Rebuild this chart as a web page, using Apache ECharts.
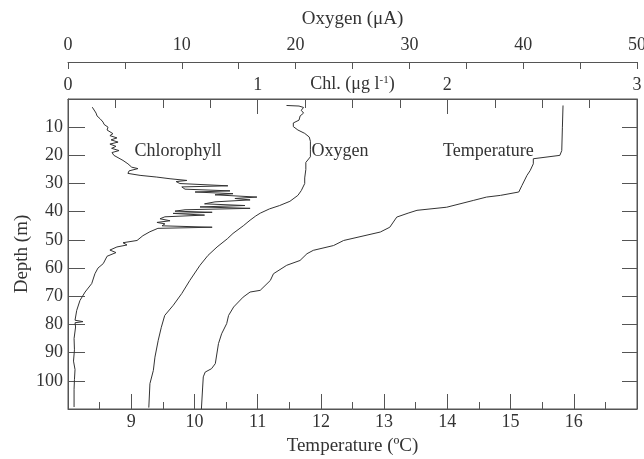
<!DOCTYPE html>
<html><head><meta charset="utf-8">
<script src="https://cdn.jsdelivr.net/npm/echarts@6/dist/echarts.min.js"></script>
<style>html,body{margin:0;padding:0;background:#fff}#c{width:644px;height:459px}</style>
</head><body><div id="c"></div>
<script>
// Chlorophyll (µg l-1) vs depth (m)
const chlDepth = [2.9,3.5,5,6,7,8.2,9,10,11,12.3,13,13.8,14.5,15.3,16,16.8,17.5,18.3,19,20,20.6,21.8,23,24.2,24.7,25.5,26.4,27.1,27.7,28.3,28.9,29.3,30,30.8,31.2,32,32.6,33,33.6,34,34.8,35.3,35.8,36.5,37.2,37.8,38.3,38.8,39.3,39.8,40.2,40.6,41.2,41.8,42.5,43.2,43.8,44.3,45,45.5,45.9,47.1,48.5,50.2,51,51.8,52.5,53.6,54.5,55.2,55.8,58.4,60,62,65.5,68.5,71.5,75,78.5,79,79.4,80.9,85,89,93,96,99.6,103,109.3];
const chlValue = [0.128,0.132,0.148,0.153,0.169,0.185,0.19,0.211,0.206,0.237,0.221,0.258,0.227,0.264,0.221,0.253,0.23,0.269,0.232,0.242,0.237,0.29,0.316,0.336,0.369,0.322,0.316,0.38,0.468,0.538,0.627,0.57,0.59,0.843,0.6,0.617,0.854,0.67,0.87,0.775,0.996,0.88,0.96,0.775,0.72,0.933,0.696,0.96,0.617,0.564,0.76,0.554,0.72,0.511,0.485,0.538,0.469,0.511,0.496,0.76,0.474,0.432,0.395,0.364,0.29,0.311,0.258,0.221,0.253,0.258,0.206,0.186,0.158,0.142,0.125,0.09,0.063,0.046,0.037,0.079,0.037,0.04,0.032,0.034,0.029,0.037,0.034,0.032,0.032];
// Oxygen (µA) vs depth (m)
const oxyDepth = [2.3,2.5,3.0,4.0,5.0,6.0,7.5,8.5,9.8,11,12.2,13.5,15,18,20.5,22.5,25,28,30,32.5,34.2,36.3,37.8,39,40.5,41.5,43,45,47.7,49.6,52.5,55.5,59,64.4,69,73.2,76.8,81,85.6,91.6,96.3,101,109.5];
const oxyValue = [19.2,20.3,20.7,20.5,20.7,20.4,20.3,19.8,19.8,20.2,20.8,21.2,21.3,21.3,21.3,20.9,20.9,20.8,20.8,20.5,20.2,19.5,18.6,17.7,16.9,16.5,16.0,15.4,14.5,14.0,13.1,12.3,11.6,10.7,10.0,9.25,8.5,8.2,7.93,7.64,7.5,7.2,7.1];
// Temperature (ºC) vs depth (m)
const tmpDepth = [2.3,10,18.3,20,21.2,23,25.4,27.1,30.7,33,34.2,34.8,36,38.4,39.5,40.5,41.9,45.5,47.2,50.2,52,53.7,54.9,57.3,59,62,64.4,67.9,68.5,70.3,73.8,76.8,79.7,83.3,86.8,93.9,95.7,96.9,98.6,102.2,110];
const tmpValue = [15.83,15.82,15.81,15.78,15.36,15.36,15.31,15.26,15.18,15.13,14.84,14.62,14.41,13.99,13.52,13.38,13.2,13.09,12.94,12.36,12.2,11.88,11.78,11.67,11.46,11.25,11.2,11.04,10.88,10.77,10.62,10.54,10.51,10.43,10.38,10.33,10.27,10.17,10.14,10.13,10.11];
// Axis ranges / ticks
const depthRange = [0, 110];
const tempRange = [8, 17];
const chlRange = [0, 3];
const oxyRange = [0, 50];
// Curve labels: [text, axis value, depth]
const labelChl = ['Chlorophyll', 0.58, 18.6];
const labelOxy = ['Oxygen', 23.9, 18.6];
const labelTmp = ['Temperature', 14.65, 18.6];

const pairs = (v, d) => v.map((x, i) => [x, d[i]]);
const FONT = '"Liberation Serif", "DejaVu Serif", serif';
const TXT = '#333';
const AX = '#555';
const LINE = '#333';
const LBL = 18, TTL = 19;

const chart = echarts.init(document.getElementById('c'), null, {renderer: 'canvas'});
const baseAxisLine = {show: true, onZero: false, lineStyle: {color: AX, width: 1}};
const lbl = (extra) => Object.assign({color: TXT, fontFamily: FONT, fontSize: LBL}, extra || {});

const option = {
  backgroundColor: '#fff',
  animation: false,
  grid: {left: 68, right: 7, top: 99, height: 310, show: true, borderColor: AX, borderWidth: 1, containLabel: false, outerBoundsMode: 'none'},
  xAxis: [
    {
      type: 'value', position: 'bottom', min: tempRange[0], max: tempRange[1], interval: 1,
      axisLine: baseAxisLine,
      axisTick: {show: true, inside: true, length: 15, lineStyle: {color: AX}},
      minorTick: {show: true, splitNumber: 2, length: 7, lineStyle: {color: AX}},
      splitLine: {show: false},
      axisLabel: lbl({margin: 4, formatter: v => (v === tempRange[0] || v === tempRange[1]) ? '' : String(v)}),
      name: 'Temperature (ºC)', nameLocation: 'middle', nameGap: 28, nameMoveOverlap: false,
      nameTextStyle: {color: TXT, fontFamily: FONT, fontSize: TTL}
    },
    {
      type: 'value', position: 'top', min: chlRange[0], max: chlRange[1], interval: 1,
      axisLine: baseAxisLine,
      axisTick: {show: true, inside: true, length: 15, lineStyle: {color: AX}},
      minorTick: {show: true, splitNumber: 4, length: 9, lineStyle: {color: AX}},
      splitLine: {show: false},
      axisLabel: lbl({margin: 5}),
      name: 'Chl. (μg l{sup|-1})', nameLocation: 'middle', nameGap: 5, nameMoveOverlap: false,
      nameTextStyle: {color: TXT, fontFamily: FONT, fontSize: LBL,
        rich: {sup: {fontSize: 11, fontFamily: FONT, color: TXT, verticalAlign: 'top', padding: [0, 0, 8, 0]}}}
    },
    {
      type: 'value', position: 'top', offset: 37, min: oxyRange[0], max: oxyRange[1], interval: 10,
      axisLine: baseAxisLine,
      axisTick: {show: true, inside: true, length: 7, lineStyle: {color: AX}},
      minorTick: {show: true, splitNumber: 2, length: 7, lineStyle: {color: AX}},
      splitLine: {show: false},
      axisLabel: lbl({margin: 8}),
      name: 'Oxygen (μA)', nameLocation: 'middle', nameGap: 33, nameMoveOverlap: false,
      nameTextStyle: {color: TXT, fontFamily: FONT, fontSize: TTL}
    }
  ],
  yAxis: [
    {
      type: 'value', position: 'left', inverse: true, min: depthRange[0], max: depthRange[1], interval: 10,
      axisLine: baseAxisLine,
      axisTick: {show: true, inside: true, length: 17, lineStyle: {color: AX}},
      splitLine: {show: false},
      axisLabel: lbl({margin: 5, formatter: v => (v === depthRange[0] || v === depthRange[1]) ? '' : String(v)}),
      name: 'Depth (m)', nameLocation: 'middle', nameGap: 36, nameMoveOverlap: false,
      nameTextStyle: {color: TXT, fontFamily: FONT, fontSize: TTL}
    },
    {
      type: 'value', position: 'right', inverse: true, min: depthRange[0], max: depthRange[1], interval: 10,
      axisLine: baseAxisLine,
      axisTick: {show: true, inside: true, length: 15, lineStyle: {color: AX}},
      splitLine: {show: false},
      axisLabel: {show: false}
    }
  ],
  series: [
    {name: 'Chlorophyll', type: 'line', xAxisIndex: 1, yAxisIndex: 0, data: pairs(chlValue, chlDepth),
      showSymbol: false, symbol: 'none', lineStyle: {color: LINE, width: 1}, silent: true},
    {name: 'Oxygen', type: 'line', xAxisIndex: 2, yAxisIndex: 0, data: pairs(oxyValue, oxyDepth),
      showSymbol: false, symbol: 'none', lineStyle: {color: LINE, width: 1}, silent: true},
    {name: 'Temperature', type: 'line', xAxisIndex: 0, yAxisIndex: 0, data: pairs(tmpValue, tmpDepth),
      showSymbol: false, symbol: 'none', lineStyle: {color: LINE, width: 1}, silent: true}
  ]
};
chart.setOption(option);

const place = (lab, xIdx) => {
  const p = chart.convertToPixel({xAxisIndex: xIdx, yAxisIndex: 0}, [lab[1], lab[2]]);
  return {type: 'text', x: p[0], y: p[1], style: {text: lab[0], fill: TXT, font: LBL + 'px ' + FONT, textAlign: 'center', textVerticalAlign: 'middle'}};
};
chart.setOption({graphic: [place(labelChl, 1), place(labelOxy, 2), place(labelTmp, 0)]});
</script>
</body></html>
